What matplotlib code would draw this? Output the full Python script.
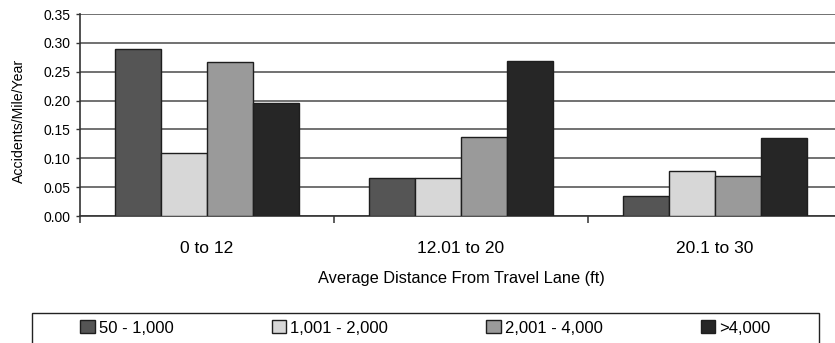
import matplotlib
matplotlib.use("Agg")
import matplotlib.pyplot as plt
from matplotlib.patches import Rectangle
import numpy as np

plt.rcParams['font.family'] = ['Liberation Sans', 'DejaVu Sans']

categories = ["0 to 12", "12.01 to 20", "20.1 to 30"]
series_names = ["50 - 1,000", "1,001 - 2,000", "2,001 - 4,000", ">4,000"]
values = {
    "50 - 1,000":    [0.289, 0.065, 0.035],
    "1,001 - 2,000": [0.109, 0.065, 0.078],
    "2,001 - 4,000": [0.266, 0.137, 0.069],
    ">4,000":        [0.195, 0.269, 0.136],
}
colors = ["#555555", "#d7d7d7", "#9a9a9a", "#262626"]
yticks = [0.00, 0.05, 0.10, 0.15, 0.20, 0.25, 0.30, 0.35]

W, H = 835, 343
fig = plt.figure(figsize=(W / 100, H / 100), dpi=100)
ax = fig.add_axes([80 / W, 1 - 216 / H, 762 / W, 202 / H])

x = np.arange(len(categories))
group_w = 0.728
bw = group_w / len(series_names)
for i, name in enumerate(series_names):
    offs = (i - (len(series_names) - 1) / 2) * bw
    ax.bar(x + offs, values[name], bw, color=colors[i], edgecolor="#1e1e1e",
           linewidth=1.0, label=name, zorder=3)

ax.set_xlim(-0.5, len(categories) - 0.5)
ax.set_ylim(0, 0.35)
ax.set_yticks(yticks)
ax.set_yticklabels([f"{v:.2f}" for v in yticks], fontsize=10)
ax.yaxis.grid(True, color="#4a4a4a", linewidth=1.1, zorder=0)
ax.set_axisbelow(True)

ax.set_xticks(x)
ax.set_xticklabels(categories, fontsize=12.5)
ax.tick_params(axis='x', which='major', length=0, pad=18)
ax.set_xticks(np.arange(len(categories)) - 0.5, minor=True)
ax.tick_params(axis='x', which='minor', length=5, width=1.1, color="#333333")
ax.tick_params(axis='y', length=3, width=1.0, color="#333333", pad=4)

for s in ["top", "right"]:
    ax.spines[s].set_visible(False)
for s in ["left", "bottom"]:
    ax.spines[s].set_color("#333333")
    ax.spines[s].set_linewidth(1.2)

ax.set_ylabel("Accidents/Mile/Year", fontsize=10.2)
ax.yaxis.set_label_coords(-0.071, 0.47)
ax.set_xlabel("Average Distance From Travel Lane (ft)", fontsize=11.8, labelpad=11)

# legend frame across the bottom, entries centred inside it
fig.patches.append(Rectangle((32 / W, -0.05), (819 - 32) / W, 1 - 313 / H + 0.05,
                             transform=fig.transFigure, facecolor="white",
                             edgecolor="#222222", linewidth=1.0, zorder=0))
handles, labels = ax.get_legend_handles_labels()
leg = fig.legend(handles, labels, ncol=4, loc="center",
                 bbox_to_anchor=(425.5 / W, 1 - 328 / H),
                 fontsize=12, frameon=False, handlelength=0.85,
                 handleheight=0.8, handletextpad=0.25, columnspacing=5.9,
                 borderaxespad=0, borderpad=0)

fig.savefig("out.png", dpi=100)
